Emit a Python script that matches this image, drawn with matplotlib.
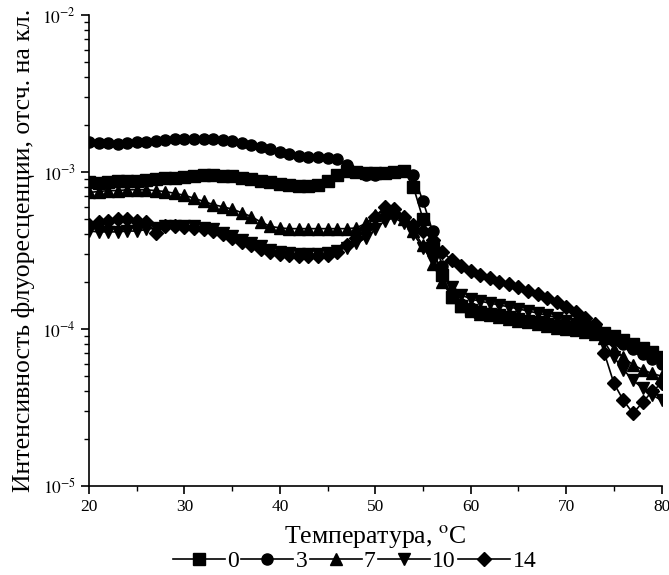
import math
import matplotlib
matplotlib.use("Agg")
import matplotlib.pyplot as plt
from matplotlib.ticker import LogLocator, MultipleLocator, FixedLocator, NullFormatter

plt.rcParams['font.family'] = ['Liberation Serif', 'DejaVu Serif']
plt.rcParams['mathtext.fontset'] = 'stix'

temps = list(range(20, 81))

s0 = [8.6e-4, 8.5e-4, 8.6e-4, 8.7e-4, 8.8e-4, 8.8e-4, 8.9e-4, 9.0e-4, 9.1e-4, 9.2e-4,
      9.3e-4, 9.4e-4, 9.5e-4, 9.5e-4, 9.4e-4, 9.4e-4, 9.2e-4, 9.0e-4, 8.8e-4, 8.6e-4,
      8.4e-4, 8.2e-4, 8.1e-4, 8.1e-4, 8.3e-4, 8.8e-4, 9.5e-4, 1.02e-3, 1.0e-3, 9.8e-4,
      9.8e-4, 9.9e-4, 1.0e-3, 1.02e-3, 8.0e-4, 5.0e-4, 3.3e-4, 2.2e-4, 1.6e-4, 1.4e-4,
      1.32e-4, 1.28e-4, 1.25e-4, 1.22e-4, 1.19e-4, 1.16e-4, 1.13e-4, 1.1e-4, 1.07e-4, 1.05e-4,
      1.03e-4, 1.01e-4, 9.9e-5, 9.7e-5, 9.4e-5, 9.0e-5, 8.5e-5, 8.0e-5, 7.6e-5, 7.1e-5,
      6.6e-5]

s3 = [1.55e-3, 1.53e-3, 1.52e-3, 1.5e-3, 1.52e-3, 1.54e-3, 1.56e-3, 1.58e-3, 1.6e-3, 1.61e-3,
      1.61e-3, 1.62e-3, 1.62e-3, 1.61e-3, 1.6e-3, 1.57e-3, 1.53e-3, 1.49e-3, 1.44e-3, 1.39e-3,
      1.34e-3, 1.3e-3, 1.27e-3, 1.25e-3, 1.24e-3, 1.23e-3, 1.2e-3, 1.1e-3, 1.0e-3, 9.6e-4,
      9.6e-4, 9.8e-4, 1.0e-3, 1.02e-3, 9.5e-4, 6.5e-4, 4.2e-4, 2.5e-4, 1.7e-4, 1.45e-4,
      1.35e-4, 1.3e-4, 1.26e-4, 1.23e-4, 1.2e-4, 1.17e-4, 1.14e-4, 1.11e-4, 1.08e-4, 1.06e-4,
      1.04e-4, 1.01e-4, 9.8e-5, 9.4e-5, 9.0e-5, 8.5e-5, 8.0e-5, 7.4e-5, 6.9e-5, 6.4e-5,
      6.0e-5]

s7 = [7.4e-4, 7.5e-4, 7.6e-4, 7.6e-4, 7.7e-4, 7.7e-4, 7.7e-4, 7.6e-4, 7.5e-4, 7.3e-4,
      7.1e-4, 6.8e-4, 6.5e-4, 6.2e-4, 6.0e-4, 5.8e-4, 5.5e-4, 5.2e-4, 4.8e-4, 4.5e-4,
      4.4e-4, 4.35e-4, 4.35e-4, 4.35e-4, 4.35e-4, 4.35e-4, 4.35e-4, 4.35e-4, 4.4e-4, 4.7e-4,
      5.3e-4, 5.7e-4, 5.6e-4, 5.0e-4, 4.2e-4, 3.4e-4, 2.6e-4, 2.0e-4, 1.6e-4, 1.4e-4,
      1.3e-4, 1.25e-4, 1.22e-4, 1.19e-4, 1.16e-4, 1.13e-4, 1.1e-4, 1.07e-4, 1.04e-4, 1.02e-4,
      1.0e-4, 9.8e-5, 9.6e-5, 9.3e-5, 8.7e-5, 7.5e-5, 6.6e-5, 5.9e-5, 5.5e-5, 5.2e-5,
      5.0e-5]

s10 = [4.2e-4, 4.15e-4, 4.15e-4, 4.15e-4, 4.2e-4, 4.2e-4, 4.3e-4, 4.4e-4, 4.5e-4, 4.55e-4,
       4.55e-4, 4.5e-4, 4.4e-4, 4.3e-4, 4.1e-4, 3.9e-4, 3.7e-4, 3.5e-4, 3.35e-4, 3.2e-4,
       3.1e-4, 3.05e-4, 3.0e-4, 3.0e-4, 3.0e-4, 3.05e-4, 3.15e-4, 3.3e-4, 3.5e-4, 3.8e-4,
       4.3e-4, 4.9e-4, 5.1e-4, 4.7e-4, 4.0e-4, 3.3e-4, 2.7e-4, 2.2e-4, 1.85e-4, 1.65e-4,
       1.55e-4, 1.5e-4, 1.46e-4, 1.42e-4, 1.38e-4, 1.34e-4, 1.3e-4, 1.26e-4, 1.22e-4, 1.18e-4,
       1.13e-4, 1.08e-4, 1.03e-4, 9.7e-5, 8.3e-5, 6.6e-5, 5.5e-5, 4.7e-5, 4.2e-5, 3.8e-5,
       3.5e-5]

s14 = [4.6e-4, 4.8e-4, 4.9e-4, 5.0e-4, 5.0e-4, 4.9e-4, 4.8e-4, 4.1e-4, 4.5e-4, 4.5e-4,
       4.45e-4, 4.4e-4, 4.3e-4, 4.2e-4, 4.0e-4, 3.8e-4, 3.6e-4, 3.4e-4, 3.25e-4, 3.1e-4,
       3.0e-4, 2.95e-4, 2.9e-4, 2.9e-4, 2.9e-4, 2.95e-4, 3.1e-4, 3.4e-4, 3.8e-4, 4.4e-4,
       5.2e-4, 6.0e-4, 5.8e-4, 5.2e-4, 4.6e-4, 4.2e-4, 3.7e-4, 3.1e-4, 2.75e-4, 2.5e-4,
       2.35e-4, 2.2e-4, 2.1e-4, 2.0e-4, 1.92e-4, 1.84e-4, 1.75e-4, 1.66e-4, 1.57e-4, 1.48e-4,
       1.38e-4, 1.28e-4, 1.18e-4, 1.08e-4, 7.0e-5, 4.5e-5, 3.5e-5, 2.9e-5, 3.4e-5, 4.0e-5,
       4.5e-5]

labels = ['0', '3', '7', '10', '14']
markers = ['s', 'o', '^', 'v', 'D']
series = [s0, s3, s7, s10, s14]

fig = plt.figure(figsize=(6.69, 5.75), dpi=100)
ax = fig.add_axes([0.133, 0.155, 0.856, 0.819])

for lab, mk, ys in zip(labels, markers, series):
    ms = 7 if mk == 'D' else 8
    ax.plot(temps, ys, color='black', marker=mk, markersize=ms, linewidth=1.2, label=lab)

ax.set_yscale('log')
ax.set_xlim(20, 80)
ax.set_ylim(1e-5, 1e-2)
ax.xaxis.set_major_locator(MultipleLocator(10))
ax.xaxis.set_minor_locator(MultipleLocator(5))
ax.yaxis.set_major_locator(FixedLocator([1e-5, 1e-4, 1e-3, 1e-2]))
ax.yaxis.set_major_formatter(plt.FuncFormatter(lambda v, p: r'$10^{%d}$' % round(math.log10(v))))
ax.yaxis.set_minor_locator(LogLocator(base=10, subs=range(2, 10), numticks=20))
ax.yaxis.set_minor_formatter(NullFormatter())

for sp in ['top', 'right']:
    ax.spines[sp].set_visible(False)
for sp in ['left', 'bottom']:
    ax.spines[sp].set_linewidth(1.2)

ax.tick_params(which='major', direction='out', length=6, width=1.2, labelsize=12.5)
ax.tick_params(which='minor', direction='out', length=3.5, width=1.0)

ax.set_xlabel('Температура, $^{\\mathrm{o}}$C', fontsize=18.5, labelpad=6)
ax.set_ylabel('Интенсивность флуоресценции, отсч. на кл.', fontsize=18.5, labelpad=5)

leg = fig.legend(loc='center', bbox_to_anchor=(0.53, 0.024), ncol=5, frameon=False,
                 fontsize=17, handlelength=2.2, handletextpad=0.1, columnspacing=0.1,
                 borderaxespad=0)

fig.savefig('out.png', dpi=100)
